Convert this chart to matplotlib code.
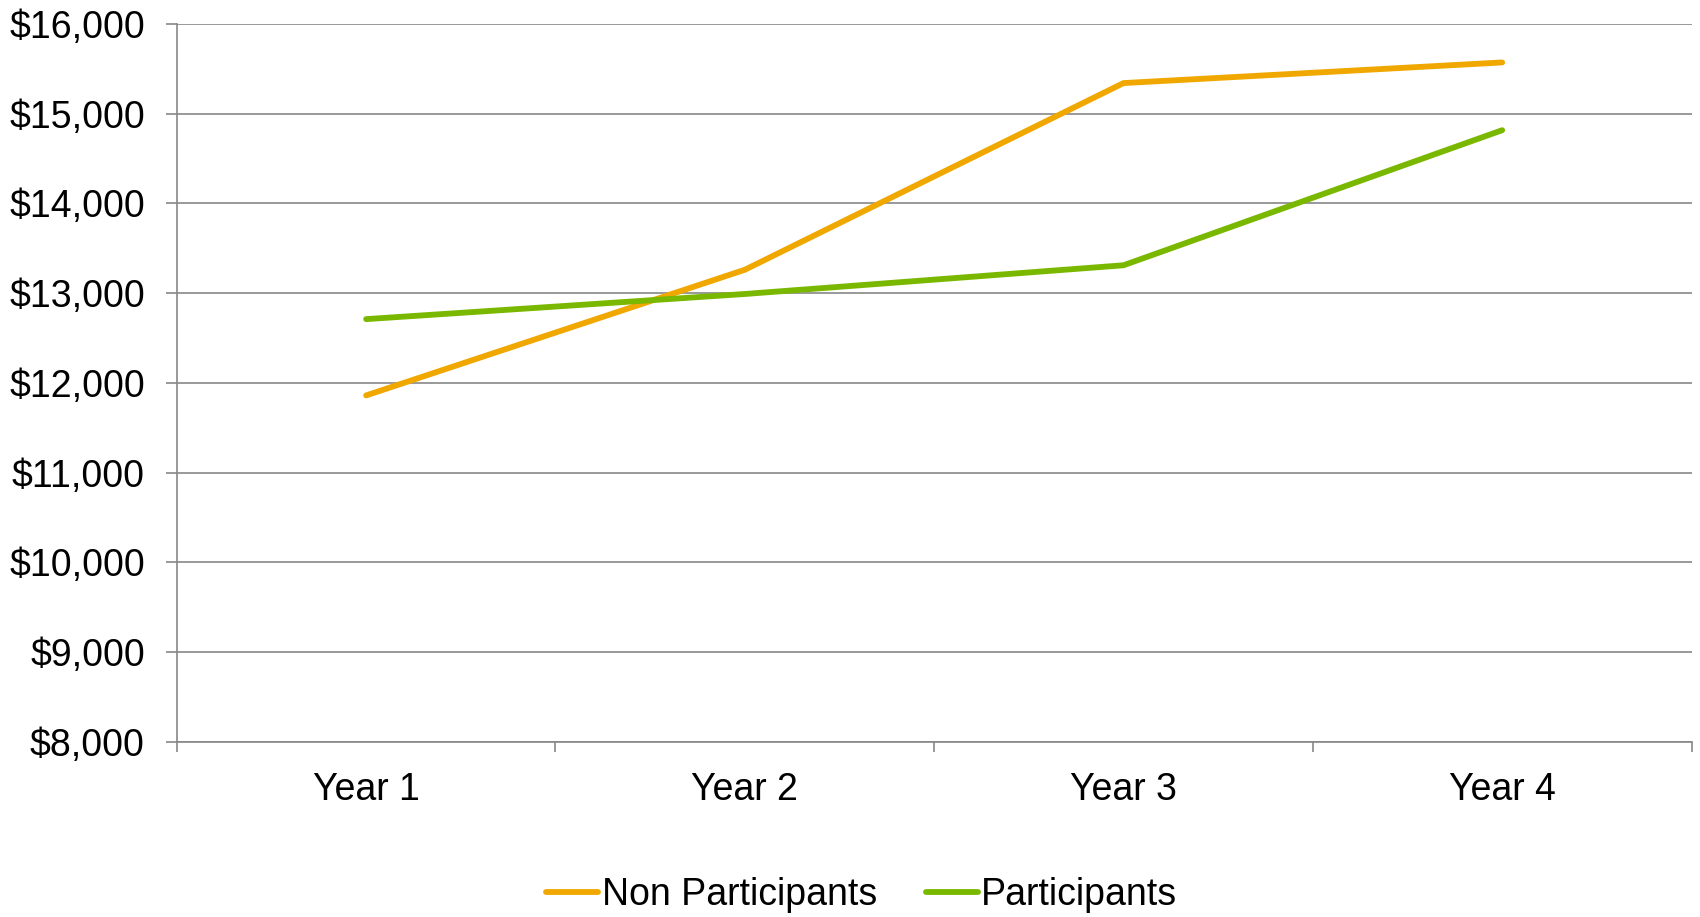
import matplotlib
matplotlib.use('Agg')
import matplotlib.pyplot as plt
from matplotlib.ticker import FuncFormatter

plt.rcParams['font.family'] = ['Liberation Sans', 'DejaVu Sans']

# average cost per person, by year
years = ['Year 1', 'Year 2', 'Year 3', 'Year 4']
non_participants = [11860, 13260, 15340, 15570]
participants = [12710, 12990, 13310, 14815]

ORANGE = '#F0A800'
GREEN = '#7AB800'
GRID = '#878787'

fig = plt.figure(figsize=(17, 9.17), dpi=100)
ax = fig.add_axes([0.104, 0.191, 0.891, 0.783])

x = list(range(len(years)))
ax.plot(x, non_participants, color=ORANGE, lw=4.2, solid_capstyle='round',
        solid_joinstyle='round', label='Non Participants', zorder=3)
ax.plot(x, participants, color=GREEN, lw=4.2, solid_capstyle='round',
        solid_joinstyle='round', label='Participants', zorder=3)

ax.set_ylim(8000, 16000)
ax.set_yticks(range(8000, 16001, 1000))
ax.yaxis.set_major_formatter(FuncFormatter(lambda v, p: '${:,.0f}'.format(v)))
ax.yaxis.grid(True, color=GRID, lw=1.2)
ax.set_axisbelow(True)

# category boundaries get the tick marks, centres get the labels
ax.set_xlim(-0.5, len(years) - 0.5)
ax.set_xticks([i - 0.5 for i in range(len(years) + 1)])
ax.set_xticklabels([])
ax.set_xticks(x, minor=True)
ax.set_xticklabels(years, minor=True)
ax.tick_params(axis='x', which='major', length=7, width=1.2, color=GRID)
ax.tick_params(axis='x', which='minor', length=0, pad=22, labelsize=27)
ax.tick_params(axis='y', length=8, width=1.2, color=GRID, labelsize=27, pad=15)

for side in ['top', 'right']:
    ax.spines[side].set_visible(False)
for side in ['left', 'bottom']:
    ax.spines[side].set_color(GRID)
    ax.spines[side].set_linewidth(1.2)

fig.legend(loc='center', bbox_to_anchor=(0.507, 0.024), ncol=2, frameon=False,
           fontsize=27, handlelength=1.38, handletextpad=0.1, columnspacing=1.3)

fig.savefig('out.png', dpi=100)
